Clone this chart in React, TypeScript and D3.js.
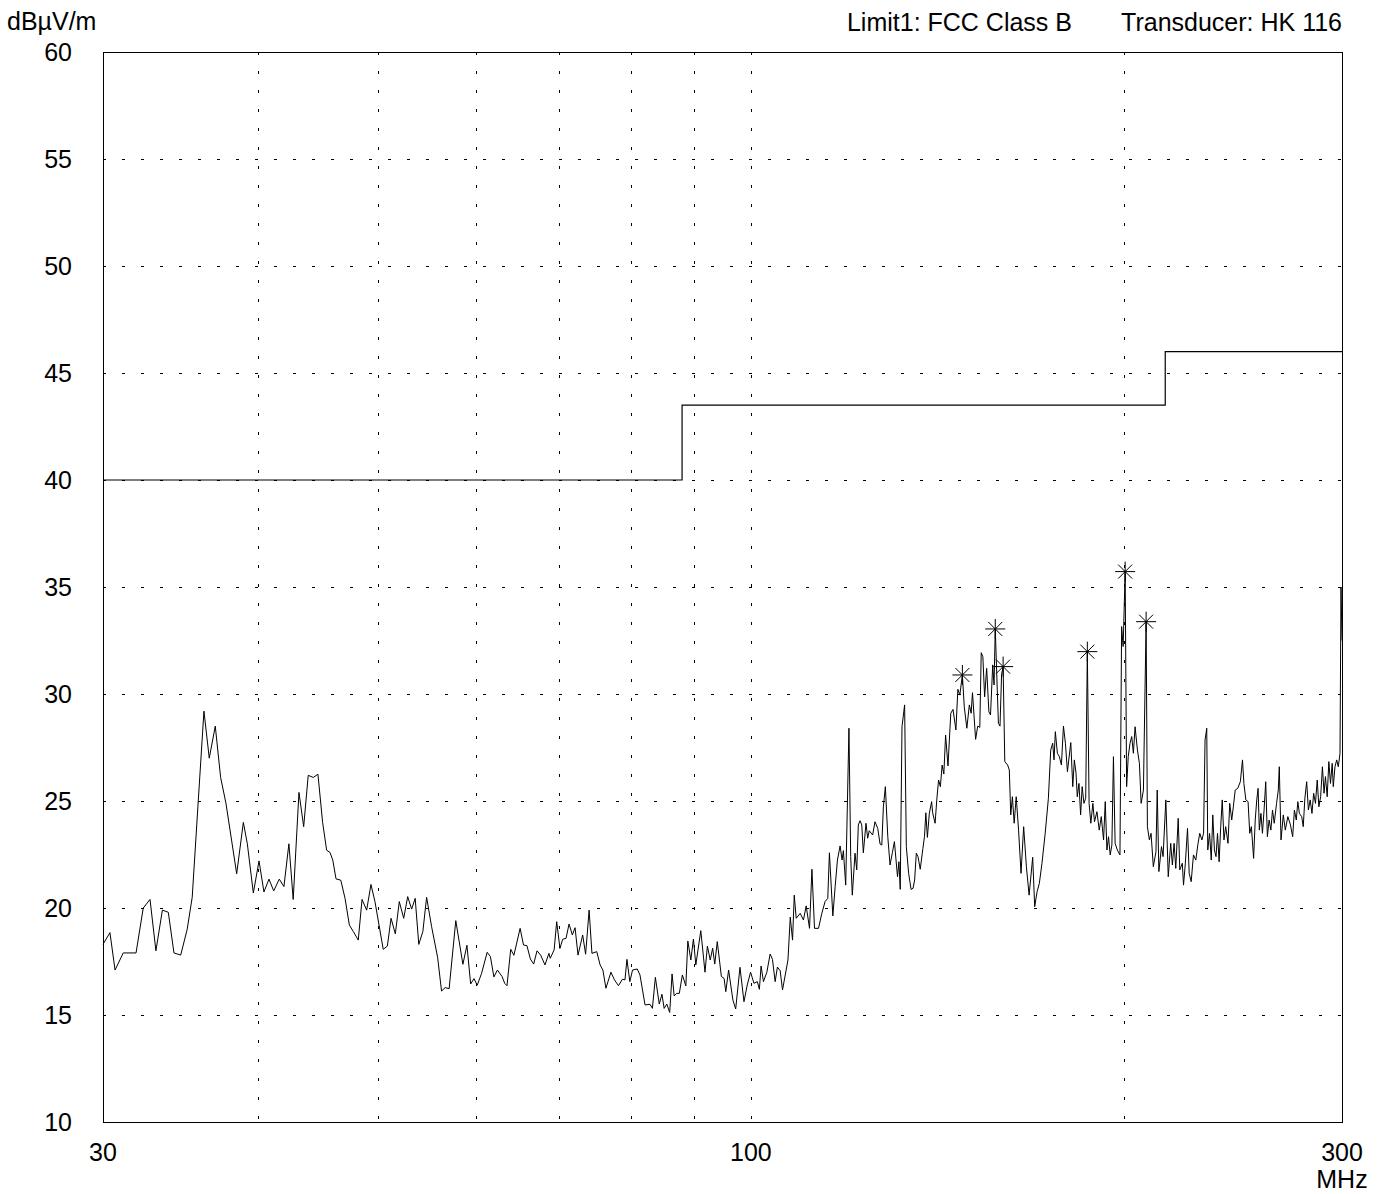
import { useEffect, useRef } from 'react'
import * as d3 from 'd3'

// measured level, [MHz, dBµV/m]
const trace: [number, number][] = [
  [30.0, 18.3], [30.39, 18.85], [30.68, 17.1], [31.15, 17.9], [31.9, 17.9], [32.33, 20.0], [32.74, 20.4],
  [33.1, 18.0], [33.5, 19.9], [33.87, 19.8], [34.23, 17.9], [34.66, 17.8], [35.08, 19.0], [35.41, 20.5],
  [35.81, 25.0], [36.19, 29.2], [36.55, 27.0], [36.96, 28.5], [37.33, 26.1], [37.7, 24.9], [38.46, 21.6],
  [38.94, 24.0], [39.23, 23.0], [39.67, 20.7], [40.09, 22.2], [40.46, 20.75], [40.84, 21.35], [41.2, 20.8],
  [41.63, 21.35], [41.99, 21.0], [42.38, 23.0], [42.72, 20.4], [43.18, 25.4], [43.56, 23.8], [43.93, 26.2],
  [44.34, 26.1], [44.73, 26.25], [45.12, 24.0], [45.46, 22.7], [45.74, 22.6], [45.98, 22.24],
  [46.26, 21.36], [46.67, 21.3], [47.04, 20.45], [47.42, 19.2], [47.77, 18.9], [48.21, 18.5], [48.55, 20.4],
  [48.97, 19.9], [49.36, 21.1], [49.73, 20.3], [50.5, 18.07], [50.89, 18.22], [51.24, 19.52], [51.65, 18.79],
  [52.03, 20.3], [52.46, 19.52], [52.85, 20.53], [53.24, 19.95], [53.59, 20.45], [53.95, 18.3], [54.36, 18.9],
  [54.74, 20.5], [55.25, 19.13], [55.87, 17.7], [56.28, 16.12], [56.66, 16.28], [57.08, 16.23], [57.79, 19.41],
  [58.56, 17.37], [59.0, 18.26], [59.41, 16.45], [59.78, 16.7], [60.14, 16.39], [60.63, 16.95], [61.26, 17.93],
  [61.63, 17.73], [62.03, 16.78], [62.44, 17.1], [62.98, 16.8], [63.29, 16.48], [63.56, 16.37], [64.0, 18.07],
  [64.38, 17.79], [65.13, 19.05], [65.54, 18.27], [65.96, 18.24], [66.38, 17.62], [66.79, 17.38], [67.21, 18.0],
  [67.66, 17.8], [68.21, 17.34], [68.71, 17.88],
  [68.88, 17.65], [69.38, 18.04], [69.71, 19.36], [70.13, 18.11], [70.49, 18.54], [70.93, 18.58], [71.33, 19.25],
  [71.77, 18.74], [72.13, 19.08], [72.53, 17.8], [73.16, 18.74], [73.56, 17.84], [74.04, 19.9], [74.43, 17.88],
  [75.1, 17.96], [75.57, 17.34], [75.96, 17.1], [76.39, 16.25], [77.1, 17.0], [77.61, 16.64], [78.19, 16.37],
  [78.76, 16.67], [79.14, 16.64], [79.43, 17.6], [79.86, 16.56], [80.26, 17.1], [80.97, 17.15], [81.38, 16.87],
  [82.15, 15.47], [82.92, 15.5], [83.28, 15.31], [83.74, 16.76], [84.35, 15.51], [84.77, 15.97], [85.12, 15.31],
  [85.54, 15.51], [86.0, 15.12], [86.38, 16.92], [86.72, 15.89], [87.12, 16.01], [87.55, 16.01], [88.05, 16.87],
  [88.62, 16.36], [88.95, 18.46], [89.45, 17.57], [89.88, 18.55], [90.28, 17.34], [91.12, 18.94], [91.83, 17.0],
  [92.24, 18.22], [92.73, 17.57], [93.15, 18.12], [93.51, 17.38], [93.95, 18.43], [94.67, 16.8], [95.15, 16.71],
  [95.45, 16.09], [95.95, 17.1], [96.72, 15.7], [97.22, 15.28], [98.0, 17.23], [98.73, 15.62], [99.33, 16.4],
  [99.95, 17.0], [100.58, 16.48], [101.21, 16.56], [101.6, 16.2], [101.92, 17.29], [102.37, 16.56], [103.02, 17.0],
  [103.65, 17.85], [104.1, 17.6], [104.62, 16.56], [105.06, 17.24], [105.6, 17.07], [106.06, 16.17], [106.6, 16.87],
  [107.14, 17.57],
  [107.6, 19.57], [108.06, 18.5], [108.4, 20.6], [108.8, 19.52], [109.6, 19.75], [110.27, 19.44], [110.83, 20.1],
  [111.52, 19.05], [112.02, 21.81], [112.56, 19.05], [113.4, 19.05], [114.1, 19.75], [114.79, 20.3], [115.37, 20.45],
  [115.72, 22.58], [116.46, 19.63], [116.96, 21.0], [117.46, 22.24], [118.04, 22.9], [118.48, 22.24], [118.76, 22.68],
  [119.28, 21.07], [120.0, 28.4], [120.39, 22.4], [120.75, 20.6], [121.36, 22.56], [121.75, 21.78], [122.11, 23.88],
  [122.5, 24.08], [122.89, 23.88], [123.25, 22.58], [123.86, 23.96], [124.25, 23.26], [124.61, 23.61], [125.4, 23.41],
  [125.95, 24.03], [126.6, 23.72], [127.14, 22.99], [127.55, 22.94], [127.93, 24.73], [128.4, 25.67], [128.98, 23.33],
  [129.52, 22.01], [130.08, 22.58], [130.58, 23.1], [131.33, 21.46], [131.68, 22.16], [132.0, 20.87], [132.43, 28.47],
  [133.08, 29.49], [133.5, 22.87], [134.08, 21.62], [134.68, 20.87], [135.18, 20.92], [135.58, 21.31], [136.0, 22.56],
  [136.43, 22.4], [137.0, 21.81], [137.68, 22.79], [138.08, 23.33], [138.43, 24.45], [138.83, 23.3], [139.33, 24.42],
  [139.93, 24.97], [140.19, 24.45], [140.83, 23.96], [141.31, 25.13], [141.75, 25.98],
  [142.22, 25.67], [142.69, 26.68], [143.14, 26.26], [143.61, 28.08], [144.25, 26.64], [145.0, 29.1], [145.6, 29.28],
  [146.39, 28.32], [146.92, 30.22], [147.45, 29.95], [148.16, 30.89], [148.68, 29.4], [149.39, 28.4], [150.09, 29.49],
  [150.59, 29.1], [150.97, 30.06], [151.85, 27.88], [152.44, 28.5], [153.03, 28.44], [153.44, 31.93], [153.91, 31.74],
  [154.41, 29.87], [155.0, 31.2], [155.64, 29.17], [156.11, 29.02], [156.75, 31.36], [157.14, 30.42], [157.5, 33.04],
  [157.97, 30.73], [158.42, 28.63], [158.89, 28.5], [159.36, 30.93], [159.81, 31.28], [160.31, 26.84], [161.16, 26.68],
  [161.66, 26.45], [162.09, 24.35], [162.59, 25.2], [163.13, 23.96], [163.75, 25.2], [164.47, 23.64], [165.22, 21.62],
  [166.03, 23.8], [166.88, 21.93], [167.72, 20.6], [168.84, 22.37], [169.47, 20.06], [170.22, 20.76], [170.94, 21.15],
  [171.78, 22.09], [172.81, 23.49], [173.84, 25.13], [174.59, 27.38], [175.23, 27.7], [175.67, 26.92], [176.1, 28.24],
  [176.77, 27.23], [177.43, 27.07], [178.1, 26.68], [178.77, 28.5], [179.43, 27.7], [180.1, 26.37], [181.23, 27.73],
  [181.9, 25.67], [182.43, 26.92], [183.0, 26.3], [183.43, 25.2], [184.0, 25.82], [184.57, 24.35], [185.1, 25.67],
  [185.71, 24.89], [186.32, 25.13], [186.89, 31.98], [187.5, 24.89], [188.11, 23.96], [188.82, 24.89], [189.39, 24.03],
  [190.25, 24.5], [191.07, 23.64], [191.79, 24.27], [192.61, 23.18], [193.21, 24.97], [193.82, 22.71], [194.39, 23.33],
  [195.0, 22.48], [195.61, 22.94], [196.18, 27.07], [196.79, 23.02], [197.61, 22.71], [198.57, 22.48], [199.18, 33.15],
  [199.75, 32.22], [200.5, 35.72], [201.04, 25.67], [201.65, 27.07], [202.31, 27.7], [202.96, 28.01], [203.58, 27.23],
  [204.23, 28.47], [205.12, 27.38], [205.88, 26.76], [206.54, 24.89], [207.42, 25.51], [208.46, 33.38], [208.96, 23.8],
  [209.73, 23.18], [210.38, 23.49], [211.27, 21.93], [212.31, 22.63], [212.81, 25.51], [213.46, 21.7],
  [214.5, 22.87], [215.13, 22.4], [216.25, 25.05], [217.21, 21.46], [218.21, 23.02], [218.88, 22.01], [219.58, 23.02],
  [220.27, 21.85], [221.27, 24.19], [221.92, 21.78], [222.96, 22.09], [223.46, 21.07], [224.23, 22.09], [225.13, 23.72],
  [225.83, 21.62], [226.67, 21.23], [227.63, 22.48], [228.63, 22.24], [229.58, 23.02], [230.32, 23.49], [231.23, 23.18],
  [231.95, 23.49], [232.59, 27.85], [233.32, 28.4], [233.77, 22.71], [234.55, 23.49], [235.29, 22.24], [235.96, 24.35],
  [236.67, 22.71], [237.38, 22.4], [238.04, 23.49], [238.75, 22.16], [239.46, 23.8], [240.14, 25.05], [240.91, 23.18],
  [241.68, 23.8], [242.73, 23.02], [243.5, 24.89], [244.41, 24.11], [245.14, 24.73], [246.0, 25.51], [247.15, 25.59],
  [248.35, 25.9], [249.35, 26.92], [250.0, 25.82], [250.91, 25.05], [251.95, 24.97], [252.73, 23.49], [253.5, 23.8],
  [254.55, 22.32], [255.32, 24.11], [256.05, 25.05], [256.68, 25.59], [257.27, 23.64], [258.05, 24.42], [258.77, 23.49],
  [259.55, 24.58], [260.35, 25.9], [261.15, 23.33], [262.0, 24.11], [262.85, 23.64], [263.65, 24.58], [264.5, 23.96],
  [265.65, 24.89], [266.5, 25.51], [267.0, 26.6], [267.85, 23.18], [269.0, 24.35], [270.0, 23.64], [271.28, 24.27],
  [272.61, 23.88], [273.72, 23.33], [274.61, 24.58], [275.56, 24.11], [276.35, 24.97], [277.15, 24.42], [278.35, 24.27],
  [279.15, 23.8], [280.0, 25.13], [280.94, 25.9], [281.83, 24.58], [282.78, 25.05], [283.72, 24.42], [284.61, 25.36],
  [285.56, 24.89], [286.5, 25.98], [287.38, 24.73], [288.33, 25.2], [289.28, 26.6], [290.15, 25.36], [290.91, 26.14],
  [291.86, 25.2], [292.75, 26.84], [293.64, 25.82], [294.59, 26.76], [295.17, 25.67], [296.11, 26.6], [297.06, 26.92],
  [297.94, 26.6], [298.89, 27.23], [299.44, 35.0], [300.0, 32.5],
]

// FCC Class B limit steps
const limitFreq = [30, 88, 216, 300]
const limitDb = [40, 43.5, 46, 46]

// peak markers
const markerFreq = [148.16, 157.5, 159.81, 186.89, 200.5, 208.46]
const markerDb = [30.89, 33.04, 31.28, 31.98, 35.72, 33.38]

const yTicks = [10, 15, 20, 25, 30, 35, 40, 45, 50, 55, 60]
const xGridFreqs = [40, 50, 60, 70, 80, 90, 100, 200]
const xTickLabels = [30, 100, 300]

const W = 1386
const H = 1194
const margin = { top: 52, right: 44, bottom: 72, left: 103 }
const font = '"Liberation Sans", Arial, Helvetica, sans-serif'
const fontSize = '25px'

const Chart = () => {
  const ref = useRef<SVGSVGElement>(null)

  useEffect(() => {
    if (!ref.current) return
    const svg = d3.select(ref.current)
    svg.selectAll('*').remove()

    const x = d3.scaleLog().domain([30, 300]).range([margin.left, W - margin.right])
    const y = d3.scaleLinear().domain([10, 60]).range([H - margin.bottom, margin.top])
    const [x0, x1] = x.range()
    const [y0, y1] = y.range()

    svg.append('rect').attr('width', W).attr('height', H).attr('fill', '#fff')

    // grid
    svg.selectAll('.hgrid')
      .data(yTicks.filter(t => t > 10 && t < 60))
      .enter()
      .append('line')
      .attr('x1', x0).attr('x2', x1)
      .attr('y1', d => Math.round(y(d)) + 0.5)
      .attr('y2', d => Math.round(y(d)) + 0.5)
      .attr('stroke', '#000')
      .attr('stroke-width', 1)
      .attr('stroke-dasharray', '3,16')

    svg.selectAll('.vgrid')
      .data(xGridFreqs)
      .enter()
      .append('line')
      .attr('x1', d => Math.round(x(d)) + 0.5)
      .attr('x2', d => Math.round(x(d)) + 0.5)
      .attr('y1', y1).attr('y2', y0)
      .attr('stroke', '#000')
      .attr('stroke-width', 1)
      .attr('stroke-dasharray', '3,16')

    // frame
    svg.append('rect')
      .attr('x', x0 + 0.5).attr('y', y1 + 0.5)
      .attr('width', x1 - x0).attr('height', y0 - y1)
      .attr('fill', 'none').attr('stroke', '#000').attr('stroke-width', 1)

    // limit
    const limitLine = d3.line<number>()
      .x((_, i) => x(limitFreq[i]))
      .y(d => y(d))
      .curve(d3.curveStepAfter)
    svg.append('path')
      .attr('d', limitLine(limitDb))
      .attr('fill', 'none').attr('stroke', '#000').attr('stroke-width', 1.2)

    // trace
    const line = d3.line<[number, number]>()
      .x(d => x(d[0]))
      .y(d => y(d[1]))
    svg.append('path')
      .attr('d', line(trace))
      .attr('fill', 'none').attr('stroke', '#000').attr('stroke-width', 1)

    // markers
    const star = 'M-10,0L10,0M0,-10L0,10M-7,-7L7,7M-7,7L7,-7'
    svg.selectAll('.marker')
      .data(markerFreq)
      .enter()
      .append('path')
      .attr('d', star)
      .attr('transform', (d, i) => `translate(${x(d)},${y(markerDb[i])})`)
      .attr('fill', 'none').attr('stroke', '#000').attr('stroke-width', 1)

    // y labels
    svg.selectAll('.ylab')
      .data(yTicks)
      .enter()
      .append('text')
      .attr('x', 72)
      .attr('y', d => y(d))
      .attr('dy', '0.36em')
      .attr('text-anchor', 'end')
      .style('font-family', font)
      .style('font-size', fontSize)
      .text(d => `${d}`)

    // x labels
    svg.selectAll('.xlab')
      .data(xTickLabels)
      .enter()
      .append('text')
      .attr('x', d => x(d))
      .attr('y', y0 + 39)
      .attr('text-anchor', 'middle')
      .style('font-family', font)
      .style('font-size', fontSize)
      .text(d => `${d}`)

    svg.append('text')
      .attr('x', x1).attr('y', y0 + 66)
      .attr('text-anchor', 'middle')
      .style('font-family', font).style('font-size', fontSize)
      .text('MHz')

    svg.append('text')
      .attr('x', 7).attr('y', 30)
      .style('font-family', font).style('font-size', fontSize)
      .text('dBµV/m')

    svg.append('text')
      .attr('x', x1).attr('y', 31)
      .attr('text-anchor', 'end')
      .style('font-family', font).style('font-size', fontSize)
      .text('Transducer: HK 116')

    svg.append('text')
      .attr('x', 1072).attr('y', 31)
      .attr('text-anchor', 'end')
      .style('font-family', font).style('font-size', fontSize)
      .text('Limit1: FCC Class B')
  }, [])

  return <svg ref={ref} width={W} height={H} style={{ display: 'block' }} />
}

export default function App() {
  return (
    <div style={{ position: 'absolute', left: 0, top: 0 }}>
      <Chart />
    </div>
  )
}
